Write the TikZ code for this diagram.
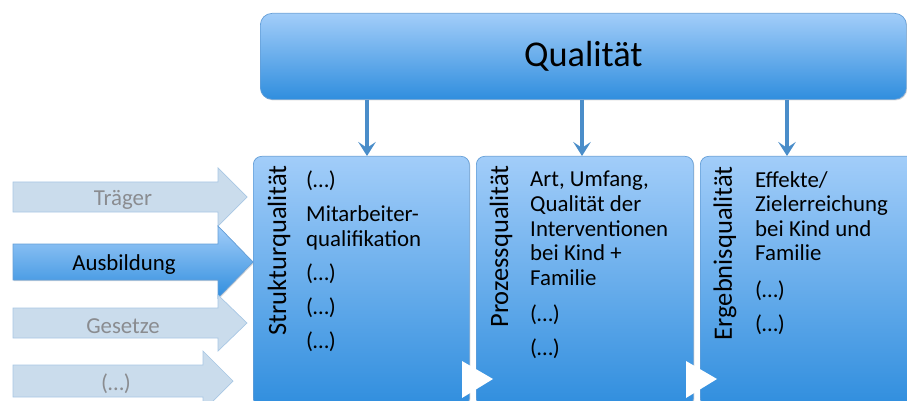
\documentclass[tikz,border=0pt]{standalone}
\usepackage{fontspec}
\setmainfont{Carlito}
\usetikzlibrary{arrows.meta,shadows}

\definecolor{panetop}{RGB}{162,205,249}
\definecolor{panebot}{RGB}{48,142,222}
\definecolor{paneline}{RGB}{100,158,215}
\definecolor{fadefill}{RGB}{202,220,236}
\definecolor{fadeline}{RGB}{168,199,228}
\definecolor{fadetext}{RGB}{138,140,144}
\definecolor{downarr}{RGB}{74,141,201}

\begin{document}
\begin{tikzpicture}[x=0.03cm, y=-0.03cm]
  \tikzset{
    pane/.style={draw=paneline, line width=0.6pt, top color=panetop, bottom color=panebot,
      rounded corners=7pt, inner sep=0pt,
      drop shadow={shadow xshift=0.8pt, shadow yshift=-0.9pt, opacity=0.3}},
    down/.style={draw=downarr, line width=3.2pt, -{Stealth[length=12pt, width=15pt, inset=5pt]}},
    sidelabel/.style={rotate=90, anchor=east, inner sep=0pt, font=\fontsize{22.6}{26}\selectfont},
    body/.style={anchor=north west, align=left, inner sep=0pt, font=\fontsize{19.5}{21}\selectfont},
    inarrow/.style={fill=fadefill, draw=fadeline, line width=0.6pt},
    inarrow hi/.style={top color=panetop, bottom color=panebot, draw=paneline, line width=0.6pt,
      drop shadow={shadow xshift=0.8pt, shadow yshift=-0.9pt, opacity=0.3}},
    intext/.style={text=fadetext, font=\fontsize{19.5}{22}\selectfont},
    intext hi/.style={text=black, font=\fontsize{19.5}{22}\selectfont}
  }
  \clip (0,0) rectangle (907,401);

  % incoming factors on the left
  \foreach \cy/\bh/\hh/\bx/\tx/\st in {
    197/15/29/218/247/inarrow, 262/18/36/218/253/inarrow hi,
    323/15/28/218/247/inarrow, 381/16/30/203/233/inarrow}
    \path[\st] (13,\cy-\bh) -- (\bx,\cy-\bh) -- (\bx,\cy-\hh) -- (\tx,\cy)
      -- (\bx,\cy+\hh) -- (\bx,\cy+\bh) -- (13,\cy+\bh) -- cycle;
  \node[intext] (traeger) at (123,200) {Träger};
  \node[intext hi] (ausbildung) at (124,265) {Ausbildung};
  \node[intext] (gesetze) at (123,326) {Gesetze};
  \node[intext] (weitere) at (116,384) {(…)};

  % quality dimensions
  \node[pane, rounded corners=10pt, anchor=north west, minimum width=19.38cm, minimum height=2.58cm,
    font=\fontsize{31}{36}\selectfont] (quali) at (260,13) {Qualität};
  \foreach \nm/\xl/\bw in {struktur/253/6.48, prozess/476/6.51, ergebnis/700/6.6}
    \node[pane, anchor=north west, minimum width=\bw cm, minimum height=7.5cm] (\nm) at (\xl,156) {};

  \foreach \nm/\ax in {struktur/367, prozess/582, ergebnis/787} {
    \coordinate (a-\nm) at (\ax,0);
    \draw[down] (quali.south -| a-\nm) -- (\nm.north -| a-\nm);
  }

  \node[sidelabel] (l-struktur) at (279,165) {Strukturqualität};
  \node[sidelabel] (l-prozess) at (501,165) {Prozessqualität};
  \node[sidelabel] (l-ergebnis) at (725,166) {Ergebnisqualität};

  \node[body] (t-struktur) at (306,171) {(…)\\[8pt] Mitarbeiter-\\qualifikation\\[8pt] (…)\\[8pt] (…)\\[8pt] (…)};
  \node[body] (t-prozess) at (530,171) {Art, Umfang,\\Qualität der\\Interventionen\\bei Kind +\\Familie\\[10pt] (…)\\[8pt] (…)};
  \node[body] (t-ergebnis) at (755,171) {Effekte/\\Zielerreichung\\bei Kind und\\Familie\\[10pt] (…)\\[8pt] (…)};

  % flow markers between the panes
  \foreach \tx in {462, 686}
    \fill[white] (\tx,361) -- (\tx+31,379) -- (\tx,398) -- cycle;
\end{tikzpicture}
\end{document}
